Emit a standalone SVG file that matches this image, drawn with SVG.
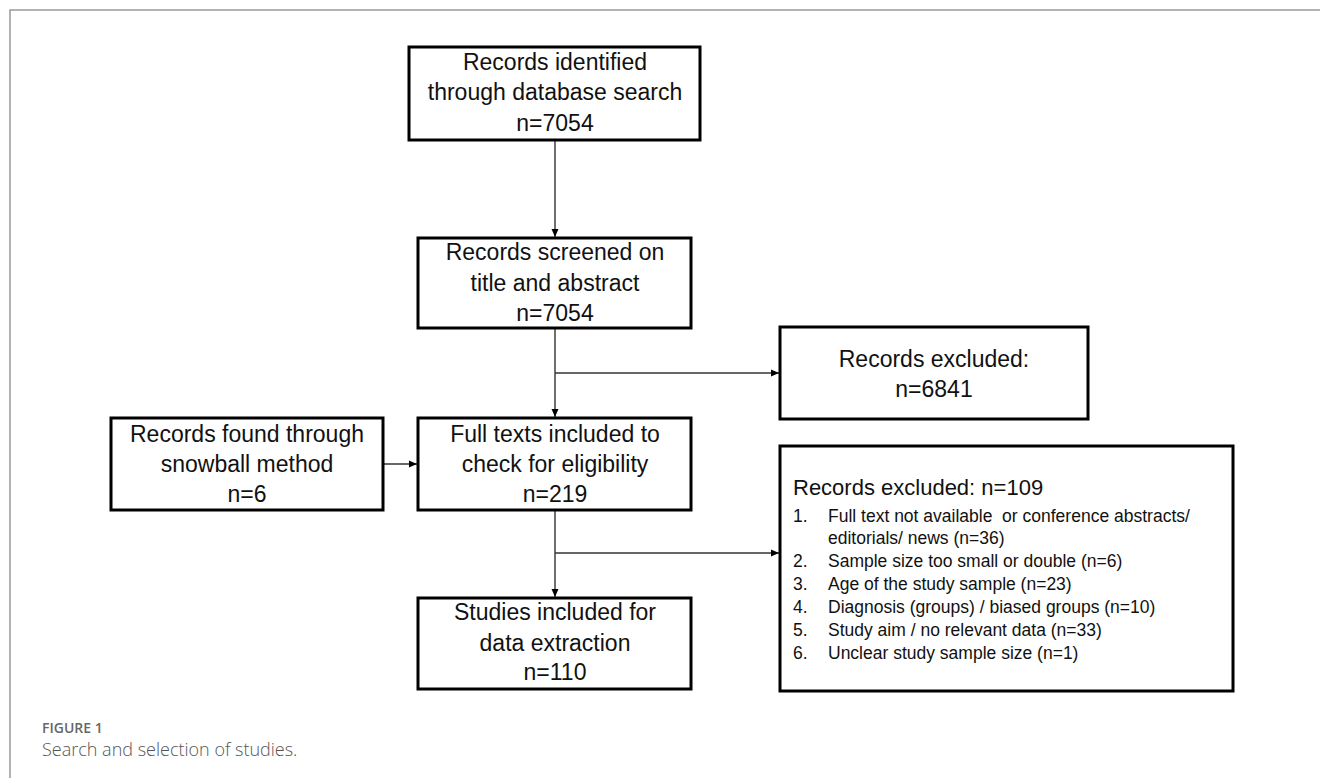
<svg xmlns="http://www.w3.org/2000/svg" width="1320" height="778" viewBox="0 0 1320 778">
<style>
.box{fill:#fff;stroke:#000;stroke-width:3}
.t{font-family:"Liberation Sans",Arial,sans-serif;font-size:23px;fill:#111;text-anchor:middle}
.l{font-family:"Liberation Sans",Arial,sans-serif;font-size:17.5px;fill:#111}
.c{fill:none;stroke:#333;stroke-width:1.4}
</style>
<defs>
<marker id="ah" viewBox="0 0 8 8" refX="8" refY="4" markerWidth="8" markerHeight="8" markerUnits="userSpaceOnUse" orient="auto">
<path d="M0,0.5 L8,4 L0,7.5 Z" fill="#000"/>
</marker>
</defs>
<rect width="1320" height="778" fill="#fff"/>
<path d="M10,778 V10 H1320" fill="none" stroke="#999" stroke-width="1.5"/>
<g id="connectors">
<line class="c" x1="555" y1="140" x2="555" y2="237" marker-end="url(#ah)"/>
<line class="c" x1="555" y1="328" x2="555" y2="417" marker-end="url(#ah)"/>
<line class="c" x1="555" y1="373" x2="779" y2="373" marker-end="url(#ah)"/>
<line class="c" x1="383" y1="464" x2="417" y2="464" marker-end="url(#ah)"/>
<line class="c" x1="555" y1="510" x2="555" y2="597" marker-end="url(#ah)"/>
<line class="c" x1="555" y1="553" x2="779" y2="553" marker-end="url(#ah)"/>
</g>
<g id="identified">
<rect class="box" x="409" y="47" width="291" height="93"/>
<text class="t" x="555" y="70">Records identified</text>
<text class="t" x="555" y="100">through database search</text>
<text class="t" x="555" y="131">n=7054</text>
</g>
<g id="screened">
<rect class="box" x="418" y="238" width="273" height="90"/>
<text class="t" x="555" y="260">Records screened on</text>
<text class="t" x="555" y="291">title and abstract</text>
<text class="t" x="555" y="321">n=7054</text>
</g>
<g id="excluded1">
<rect class="box" x="780" y="327" width="308" height="92"/>
<text class="t" x="934" y="367">Records excluded:</text>
<text class="t" x="934" y="397">n=6841</text>
</g>
<g id="snowball">
<rect class="box" x="111" y="418" width="272" height="92"/>
<text class="t" x="247" y="442">Records found through</text>
<text class="t" x="247" y="472">snowball method</text>
<text class="t" x="247" y="502">n=6</text>
</g>
<g id="fulltexts">
<rect class="box" x="418" y="418" width="273" height="92"/>
<text class="t" x="555" y="442">Full texts included to</text>
<text class="t" x="555" y="472">check for eligibility</text>
<text class="t" x="555" y="502">n=219</text>
</g>
<g id="excluded2">
<rect class="box" x="780" y="446" width="453" height="245"/>
<text class="t" x="793" y="495" style="text-anchor:start;font-size:22px">Records excluded: n=109</text>
<text class="l" x="793" y="522">1.</text>
<text class="l" x="828" y="522" style="white-space:pre">Full text not available  or conference abstracts/</text>
<text class="l" x="828" y="544">editorials/ news (n=36)</text>
<text class="l" x="793" y="567">2.</text>
<text class="l" x="828" y="567">Sample size too small or double (n=6)</text>
<text class="l" x="793" y="590">3.</text>
<text class="l" x="828" y="590">Age of the study sample (n=23)</text>
<text class="l" x="793" y="613">4.</text>
<text class="l" x="828" y="613">Diagnosis (groups) / biased groups (n=10)</text>
<text class="l" x="793" y="636">5.</text>
<text class="l" x="828" y="636">Study aim / no relevant data (n=33)</text>
<text class="l" x="793" y="659">6.</text>
<text class="l" x="828" y="659">Unclear study sample size (n=1)</text>
</g>
<g id="included">
<rect class="box" x="418" y="598" width="273" height="91"/>
<text class="t" x="555" y="620">Studies included for</text>
<text class="t" x="555" y="651">data extraction</text>
<text class="t" x="555" y="680">n=110</text>
</g>
<g id="caption">
<text x="42" y="733" style="font-family:'Open Sans','Liberation Sans',sans-serif;font-size:14px;font-weight:600;fill:#666">FIGURE 1</text>
<text x="42" y="756" style="font-family:'Open Sans','Liberation Sans',sans-serif;font-size:18px;font-weight:300;fill:#555">Search and selection of studies.</text>
</g>
</svg>
